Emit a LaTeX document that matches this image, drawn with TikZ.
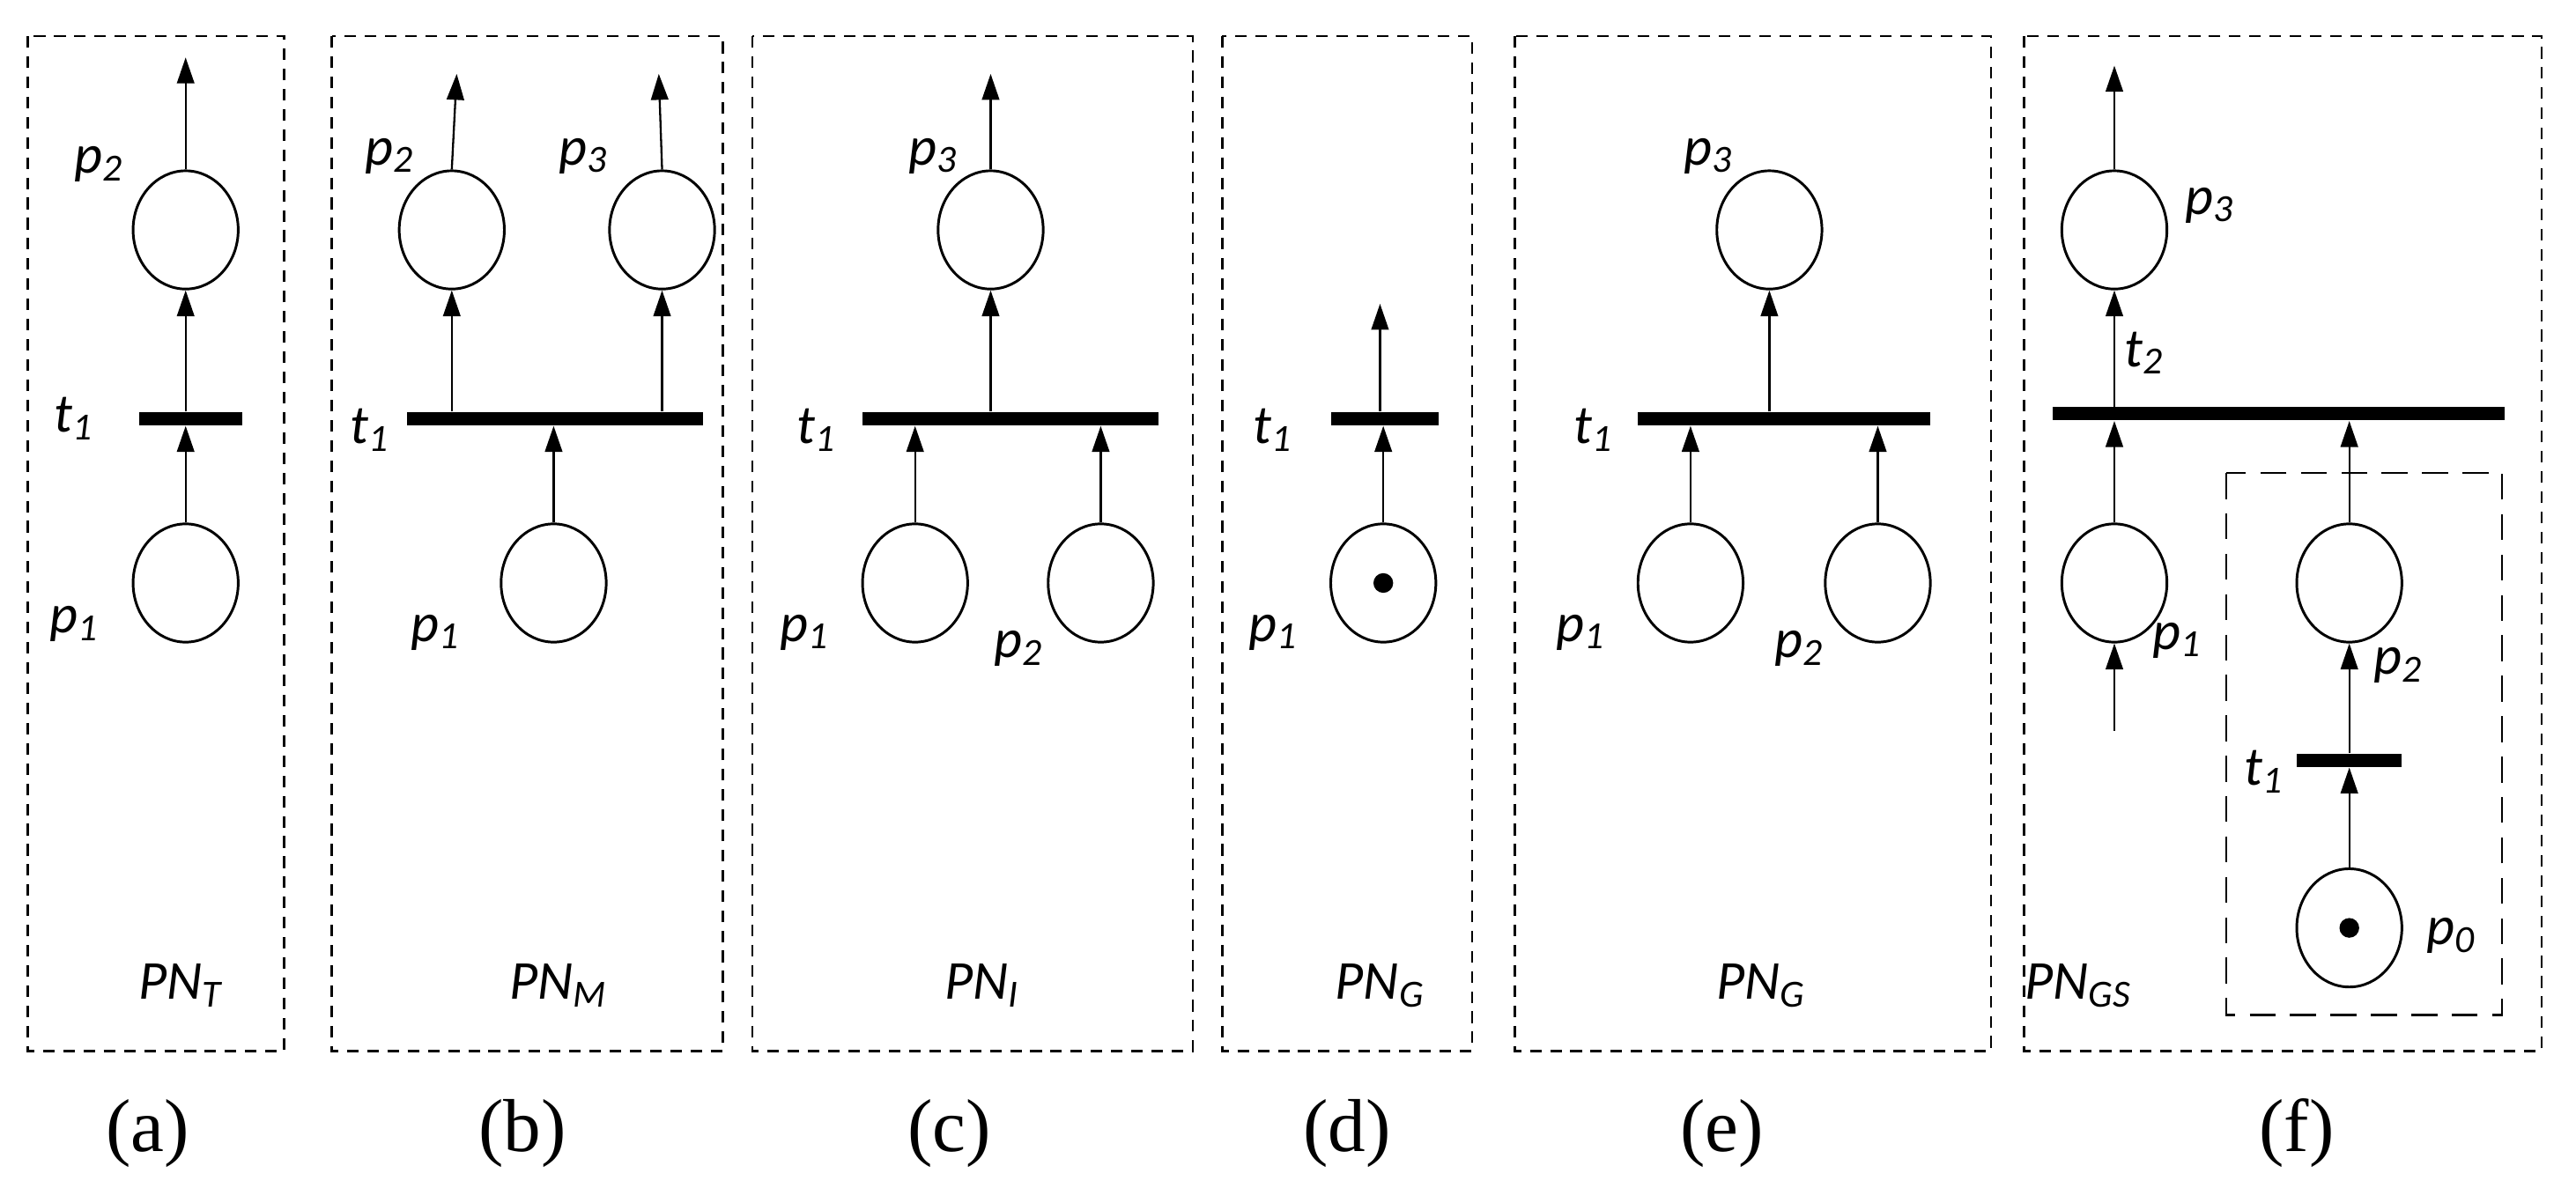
\documentclass[tikz,border=0pt]{standalone}
\usepackage{fontspec}
\setmainfont{Carlito}
\newfontfamily\capfont{Liberation Serif}
\usetikzlibrary{arrows.meta,shapes.geometric}
\newcommand\lblfont{\fontsize{19}{21}\selectfont\itshape}
\newcommand\s[1]{\textsubscript{#1}}
\newlength\ux
\setlength\ux{0.02cm}
\begin{document}
\begin{tikzpicture}[x=0.02cm,y=-0.02cm,
  place/.style={draw,line width=0.9pt,ellipse,minimum width=64\ux,minimum height=72\ux,inner sep=0},
  trans/.style={fill=black,minimum height=8\ux,inner sep=0},
  tok/.style={circle,fill=black,minimum size=12\ux,inner sep=0},
  arc/.style={line width=0.7pt,-{Triangle[length=9pt,width=6pt]}},
  box/.style={draw,line width=0.8pt,dash pattern=on 4pt off 3pt},
  ibox/.style={draw,line width=0.8pt,dash pattern=on 9pt off 5pt},
  lab/.style={font=\lblfont,inner sep=0},
  subcap/.style={font=\capfont\fontsize{26}{28}\selectfont,inner sep=0}]
\useasboundingbox (0,0) rectangle (1568,732);
% boxes
\draw[box] (17,22) rectangle (173,640);
\draw[box] (202,22) rectangle (440,640);
\draw[box] (458,22) rectangle (726,640);
\draw[box] (744,22) rectangle (896,640);
\draw[box] (922,22) rectangle (1212,640);
\draw[box] (1232,22) rectangle (1547,640);
\draw[ibox] (1355,288) rectangle (1523,618);
% (a)
\node[place] (a1) at (113,355) {};
\node[place] (a2) at (113,140) {};
\node[trans,minimum width=63\ux] (at) at (116,255) {};
\coordinate (ao) at (113,35);
\draw[arc] (a1.north) -- (at.south -| a1.north);
\draw[arc] (at.north -| a2.south) -- (a2.south);
\draw[arc] (a2.north) -- (ao);
\node[lab] at (60,100) {p\s{2}};
\node[lab] at (45,255) {t\s{1}};
\node[lab] at (45,380) {p\s{1}};
\node[lab] at (110,600) {PN\s{T}};
\node[subcap] at (90,690) {(a)};
% (b)
\node[place] (b1) at (337,355) {};
\node[place] (b2) at (275,140) {};
\node[place] (b3) at (403,140) {};
\node[trans,minimum width=180\ux] (bt) at (338,255) {};
\coordinate (bo2) at (278,45);
\coordinate (bo3) at (401,45);
\draw[arc] (b1.north) -- (bt.south -| b1.north);
\draw[arc] (bt.north -| b2.south) -- (b2.south);
\draw[arc] (bt.north -| b3.south) -- (b3.south);
\draw[arc] (b2.north) -- (bo2);
\draw[arc] (b3.north) -- (bo3);
\node[lab] at (237,95) {p\s{2}};
\node[lab] at (355,95) {p\s{3}};
\node[lab] at (225,262) {t\s{1}};
\node[lab] at (265,385) {p\s{1}};
\node[lab] at (340,600) {PN\s{M}};
\node[subcap] at (318,690) {(b)};
% (c)
\node[place] (c3) at (603,140) {};
\node[place] (c1) at (557,355) {};
\node[place] (c2) at (670,355) {};
\node[trans,minimum width=180\ux] (ct) at (615,255) {};
\coordinate (co) at (603,45);
\draw[arc] (c1.north) -- (ct.south -| c1.north);
\draw[arc] (c2.north) -- (ct.south -| c2.north);
\draw[arc] (ct.north -| c3.south) -- (c3.south);
\draw[arc] (c3.north) -- (co);
\node[lab] at (568,95) {p\s{3}};
\node[lab] at (497,262) {t\s{1}};
\node[lab] at (490,385) {p\s{1}};
\node[lab] at (620,395) {p\s{2}};
\node[lab] at (598,600) {PN\s{I}};
\node[subcap] at (578,690) {(c)};
% (d)
\node[place] (d1) at (842,355) {};
\node[tok] at (d1) {};
\node[trans,minimum width=65\ux] (dt) at (843,255) {};
\coordinate (do) at (840,185);
\draw[arc] (d1.north) -- (dt.south -| d1.north);
\draw[arc] (dt.north -| do) -- (do);
\node[lab] at (775,262) {t\s{1}};
\node[lab] at (775,385) {p\s{1}};
\node[lab] at (840,600) {PN\s{G}};
\node[subcap] at (820,690) {(d)};
% (e)
\node[place] (e3) at (1077,140) {};
\node[place] (e1) at (1029,355) {};
\node[place] (e2) at (1143,355) {};
\node[trans,minimum width=178\ux] (et) at (1086,255) {};
\draw[arc] (e1.north) -- (et.south -| e1.north);
\draw[arc] (e2.north) -- (et.south -| e2.north);
\draw[arc] (et.north -| e3.south) -- (e3.south);
\node[lab] at (1040,95) {p\s{3}};
\node[lab] at (970,262) {t\s{1}};
\node[lab] at (962,385) {p\s{1}};
\node[lab] at (1095,395) {p\s{2}};
\node[lab] at (1072,600) {PN\s{G}};
\node[subcap] at (1048,690) {(e)};
% (f)
\node[place] (f3) at (1287,140) {};
\node[place] (f1) at (1287,355) {};
\node[place] (f2) at (1430,355) {};
\node[place] (f0) at (1430,565) {};
\node[tok] at (f0) {};
\node[trans,minimum width=275\ux] (ft2) at (1387,252) {};
\node[trans,minimum width=64\ux] (ft1) at (1430,463) {};
\coordinate (fo) at (1287,40);
\coordinate (fi) at (1287,445);
\draw[arc] (fi) -- (f1.south);
\draw[arc] (f1.north) -- (ft2.south -| f1.north);
\draw[arc] (f2.north) -- (ft2.south -| f2.north);
\draw[arc] (ft2.north -| f3.south) -- (f3.south);
\draw[arc] (f3.north) -- (fo);
\draw[arc] (ft1.north -| f2.south) -- (f2.south);
\draw[arc] (f0.north) -- (ft1.south -| f0.north);
\node[lab] at (1345,125) {p\s{3}};
\node[lab] at (1305,215) {t\s{2}};
\node[lab] at (1325,390) {p\s{1}};
\node[lab] at (1460,405) {p\s{2}};
\node[lab] at (1378,470) {t\s{1}};
\node[lab] at (1492,570) {p\s{0}};
\node[lab] at (1265,600) {PN\s{GS}};
\node[subcap] at (1398,690) {(f)};
\end{tikzpicture}
\end{document}
